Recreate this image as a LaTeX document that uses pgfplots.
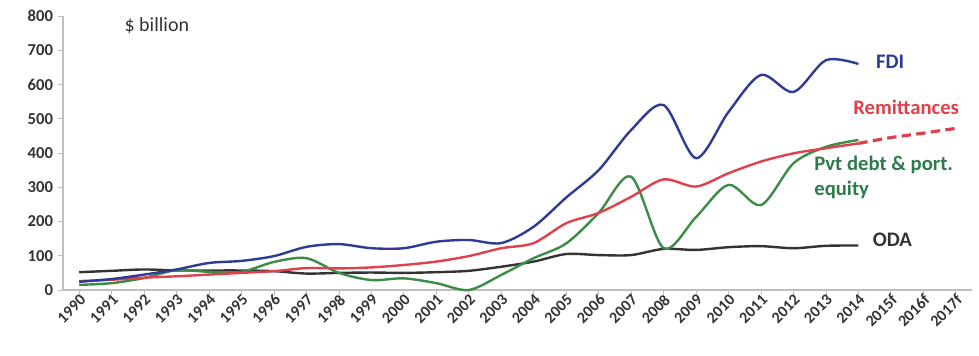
\documentclass[border=0pt]{standalone}
\usepackage{pgfplots}
\pgfplotsset{compat=1.18}
\usepackage{fontspec}
\setmainfont{Carlito}
\definecolor{fdiblue}{HTML}{2E3A93}
\definecolor{remred}{HTML}{E0404C}
\definecolor{pvtgreen}{HTML}{3C8C48}
\definecolor{pvttext}{HTML}{2F7A4C}
\definecolor{odablack}{HTML}{333333}
\definecolor{axgray}{HTML}{BFBFBF}
\definecolor{tickgray}{HTML}{333333}
\begin{document}
\begin{tikzpicture}
\path[use as bounding box] (-47.25pt,-48.75pt) rectangle (687pt,217.5pt);
\begin{axis}[
  at={(0pt,0pt)}, anchor=south west,
  scale only axis, width=681.75pt, height=205.5pt,
  xmin=-0.5, xmax=27.5, ymin=0, ymax=800,
  axis lines*=left,
  axis line style={draw=axgray, line width=0.8pt},
  xtick={0,...,27},
  xticklabels={1990,1991,1992,1993,1994,1995,1996,1997,1998,1999,2000,2001,2002,2003,2004,2005,2006,2007,2008,2009,2010,2011,2012,2013,2014,2015f,2016f,2017f},
  ytick={0,100,...,800},
  tick style={draw=axgray, line width=0.6pt},
  major tick length=4pt,
  tick align=outside,
  xticklabel style={rotate=45, anchor=east, font=\fontsize{12}{14}\selectfont\bfseries, text=tickgray, inner sep=1pt, xshift=2pt, yshift=-3pt},
  yticklabel style={font=\fontsize{12.5}{14}\selectfont\bfseries, text=tickgray},
  /pgf/number format/assume math mode=true,
  clip=false,
]
% ODA
\addplot[odablack, line width=1.8pt, smooth] coordinates {
(0,52) (1,56) (2,60) (3,57) (4,57) (5,57) (6,55) (7,48) (8,50) (9,51) (10,50) (11,52) (12,56) (13,68) (14,83) (15,105) (16,102) (17,102) (18,120) (19,117) (20,125) (21,128) (22,122) (23,129) (24,130)};
% Pvt debt
\addplot[pvtgreen, line width=1.8pt, smooth] coordinates {
(0,15) (1,20) (2,35) (3,58) (4,53) (5,53) (6,82) (7,93) (8,50) (9,29) (10,34) (11,20) (12,0) (13,44) (14,93) (15,136) (16,225) (17,331) (18,122) (19,213) (20,307) (21,248) (22,370) (23,418) (24,438)};
% Remittances
\addplot[remred, line width=1.8pt, smooth] coordinates {
(0,26) (1,30) (2,36) (3,40) (4,45) (5,50) (6,55) (7,64) (8,63) (9,66) (10,73) (11,83) (12,99) (13,122) (14,137) (15,195) (16,225) (17,272) (18,323) (19,302) (20,341) (21,375) (22,399) (23,414) (24,428)};
\addplot[remred, line width=2.4pt, dash pattern=on 7pt off 4pt, smooth] coordinates {
(24,428) (25,445) (26,458) (27,472)};
% FDI
\addplot[fdiblue, line width=1.8pt, smooth] coordinates {
(0,24) (1,32) (2,45) (3,60) (4,79) (5,85) (6,99) (7,126) (8,134) (9,122) (10,122) (11,141) (12,146) (13,137) (14,185) (15,270) (16,350) (17,467) (18,540) (19,385) (20,520) (21,628) (22,578) (23,671) (24,660)};
\node[anchor=west, font=\fontsize{15}{17}\selectfont, text=tickgray] at (axis cs:1.25,771) {\$ billion};
\node[anchor=west, font=\fontsize{15.5}{17}\selectfont\bfseries, text=fdiblue] at (axis cs:24.4,666) {FDI};
\node[anchor=west, font=\fontsize{15.5}{17}\selectfont\bfseries, text=remred] at (axis cs:23.7,534) {Remittances};
\node[anchor=west, font=\fontsize{15.5}{17}\selectfont\bfseries, text=pvttext] at (axis cs:22.5,365) {Pvt debt \& port.};
\node[anchor=west, font=\fontsize{15.5}{17}\selectfont\bfseries, text=pvttext] at (axis cs:22.5,292) {equity};
\node[anchor=west, font=\fontsize{15.5}{17}\selectfont\bfseries, text=odablack] at (axis cs:24.3,146) {ODA};
\end{axis}
\end{tikzpicture}
\end{document}
